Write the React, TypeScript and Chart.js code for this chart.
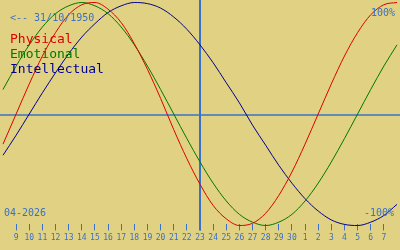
import React, { useEffect, useRef } from "react";
import { Chart, registerables } from "chart.js";

Chart.register(...registerables);

// Day labels along the x axis (index 0 = 8 April, index 30 = 8 May; ends unlabeled)
const dayLabels = [
  "", "9", "10", "11", "12", "13", "14", "15", "16", "17", "18", "19", "20",
  "21", "22", "23", "24", "25", "26", "27", "28", "29", "30",
  "1", "2", "3", "4", "5", "6", "7", "",
];

const physical = [
  -0.27, 0, 0.27, 0.52, 0.73, 0.89, 0.98, 1.0, 0.94, 0.82, 0.63, 0.4, 0.14,
  -0.14, -0.4, -0.63, -0.82, -0.94, -1.0, -0.98, -0.89, -0.73, -0.52, -0.27,
  0, 0.27, 0.52, 0.73, 0.89, 0.98, 1.0,
];

const emotional = [
  0.22, 0.43, 0.62, 0.78, 0.9, 0.97, 1.0, 0.97, 0.9, 0.78, 0.62, 0.43, 0.22,
  0, -0.22, -0.43, -0.62, -0.78, -0.9, -0.97, -1.0, -0.97, -0.9, -0.78, -0.62,
  -0.43, -0.22, 0, 0.22, 0.43, 0.62,
];

const intellectual = [
  -0.37, -0.19, 0, 0.19, 0.37, 0.54, 0.69, 0.81, 0.91, 0.97, 1.0, 0.99, 0.95,
  0.87, 0.76, 0.62, 0.46, 0.28, 0.1, -0.1, -0.28, -0.46, -0.62, -0.76, -0.87,
  -0.95, -0.99, -1.0, -0.97, -0.91, -0.81,
];

const seriesNames = ["Physical", "Emotional", "Intellectual"];
const todayIndex = 15; // 23
const birthText = "<-- 31/10/1950";
const monthText = "04-2026";
const topText = "100%";
const bottomText = "-100%";

const BG = "#e0d282";
const AXIS = "#3a70c8";
const RED = "#dd0000";
const GREEN = "#007800";
const NAVY = "#000090";
const MONO = "'DejaVu Sans Mono', monospace";

const overlay = {
  id: "overlay",
  beforeDraw(chart: any) {
    const { ctx, width, height } = chart;
    ctx.save();
    ctx.fillStyle = BG;
    ctx.fillRect(0, 0, width, height);
    ctx.restore();
  },
  beforeDatasetsDraw(chart: any) {
    const { ctx, chartArea, scales, width } = chart;
    const x = scales.x.getPixelForValue(todayIndex);
    const y = scales.y.getPixelForValue(0);
    ctx.save();
    ctx.strokeStyle = AXIS;
    ctx.lineWidth = 1.5;
    ctx.beginPath();
    ctx.moveTo(0, Math.round(y) + 1);
    ctx.lineTo(width, Math.round(y) + 1);
    ctx.stroke();
    ctx.lineWidth = 2;
    ctx.beginPath();
    ctx.moveTo(Math.round(x), 0);
    ctx.lineTo(Math.round(x), chartArea.bottom + 6);
    ctx.stroke();
    ctx.restore();
  },
  afterDatasetsDraw(chart: any) {
    const { ctx } = chart;
    ctx.save();
    ctx.textBaseline = "alphabetic";
    ctx.font = `10px ${MONO}`;
    ctx.fillStyle = AXIS;
    ctx.textAlign = "left";
    ctx.fillText(birthText, 10, 21);
    ctx.fillText(monthText, 4, 216);
    ctx.textAlign = "right";
    ctx.fillText(topText, 395, 16);
    ctx.fillText(bottomText, 394, 216);
    ctx.textAlign = "left";
    ctx.font = `13px ${MONO}`;
    chart.data.datasets.forEach((ds: any, i: number) => {
      ctx.fillStyle = ds.borderColor;
      ctx.fillText(ds.label, 10, 43 + i * 15);
    });
    ctx.restore();
  },
};

export default function App() {
  const ref = useRef<HTMLCanvasElement | null>(null);

  useEffect(() => {
    if (!ref.current) return;
    const line = (label: string, data: number[], color: string) => ({
      label,
      data,
      borderColor: color,
      backgroundColor: color,
      borderWidth: 1,
      pointRadius: 0,
      fill: false,
      clip: 4,
      cubicInterpolationMode: "monotone" as const,
    });
    const chart = new Chart(ref.current, {
      type: "line",
      data: {
        labels: dayLabels,
        datasets: [
          line(seriesNames[0], physical, RED),
          line(seriesNames[1], emotional, GREEN),
          line(seriesNames[2], intellectual, NAVY),
        ],
      },
      options: {
        animation: false,
        responsive: false,
        devicePixelRatio: 1,
        layout: { padding: { left: 0, right: 0, top: 0, bottom: 4 } },
        plugins: {
          legend: { display: false },
          tooltip: { enabled: false },
        },
        scales: {
          x: {
            type: "category",
            offset: false,
            border: { display: false },
            grid: {
              display: true,
              drawOnChartArea: false,
              drawTicks: true,
              tickLength: 6,
              lineWidth: 1,
              color: (c: any) =>
                c.tick && c.tick.label === "" ? "rgba(0,0,0,0)" : AXIS,
            },
            ticks: {
              autoSkip: false,
              maxRotation: 0,
              minRotation: 0,
              padding: 3,
              color: AXIS,
              font: { family: MONO, size: 8 },
            },
          },
          y: {
            display: false,
            min: -0.99,
            max: 1.0224,
          },
        },
      },
      plugins: [overlay],
    });
    return () => chart.destroy();
  }, []);

  return (
    <div
      style={{
        position: "absolute",
        left: 0,
        top: 0,
        width: 400,
        height: 250,
        background: BG,
      }}
    >
      <canvas ref={ref} width={400} height={250} style={{ display: "block" }} />
    </div>
  );
}
